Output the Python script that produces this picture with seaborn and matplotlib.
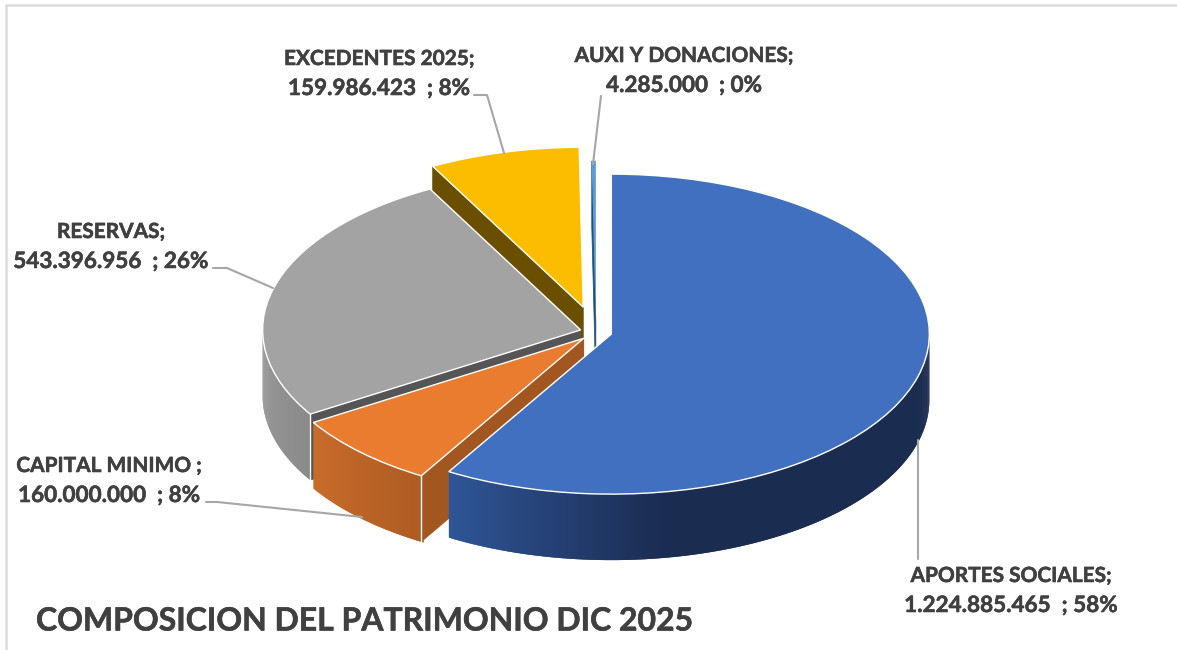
import numpy as np
import seaborn as sns
from matplotlib import pyplot as plt
from matplotlib import patheffects as pe
from matplotlib.lines import Line2D

sns.set_theme(style="white")
plt.rcParams['font.family'] = ['Lato', 'DejaVu Sans']

# values as printed on the chart
categories = ["APORTES SOCIALES", "CAPITAL MINIMO", "RESERVAS", "EXCEDENTES 2025", "AUXI Y DONACIONES"]
values = [1224885465, 160000000, 543396956, 159986423, 4285000]
percent_labels = ["58%", "8%", "26%", "8%", "0%"]
title = "COMPOSICION DEL PATRIMONIO DIC 2025"

top_colors = ["#4270c0", "#ea7c30", "#a3a3a3", "#fcbd00", "#5b9bd5"]
face_colors = ["#1a2c50", "#a35720", "#555555", "#6a4f00", "#1f4e79"]
wall_colors = [["#2f5597", "#1a2c50", "#1a2c50", "#1a2c50"], ["#c86c2b", "#ae5b22"], ["#9a9a9a", "#8a8a8a"],
               ["#6a4f00", "#6a4f00"], ["#1f4e79", "#1f4e79"]]
explode = [0.05, 0.055, 0.05, 0.16, 0.07]
draw_order = [3, 4, 2, 1, 0]

W, H = 1177, 650
CX, CY = 596, 332     # pie centre in pixels
RX, RY = 318, 160     # ellipse half axes in pixels
DEPTH = 66 / RY
TEXT = "#404040"
BOLD = [pe.withStroke(linewidth=0.4, foreground=TEXT)]

fig = plt.figure(figsize=(W / 100, H / 100), dpi=100)
ax = fig.add_axes([0, 0, 1, 1])
wedges, _ = ax.pie(values, explode=explode, colors=top_colors, startangle=90, counterclock=False,
                   wedgeprops=dict(edgecolor="white", linewidth=1))
wedges[4].set_linewidth(0)
ax.set_aspect("auto")
ax.set_xlim(-CX / RX, (W - CX) / RX)
ax.set_ylim((CY - H) / RY, CY / RY)
ax.axis("off")

for layer, i in enumerate(draw_order):
    w = wedges[i]
    z = 10 * (layer + 1)
    w.set_zorder(z + 2)
    cx, cy = w.center
    # outer wall, only the part that faces the viewer
    ang = np.radians(np.arange(w.theta1, w.theta2 + 0.5, 0.5))
    ang = ang[np.sin(ang) < 0]
    if len(ang) > 2:
        # left to right on the screen, each strip runs under the next one so no seams show
        ang = ang[np.argsort(np.cos(ang))]
        pal = sns.blend_palette(wall_colors[i], len(ang))
        for n in range(len(ang) - 1):
            a = ang[[n, min(n + 2, len(ang) - 1)]]
            xs = cx + np.cos(a)
            ys = cy + np.sin(a)
            ax.fill(np.r_[xs, xs[::-1]], np.r_[ys, ys[::-1] - DEPTH], color=pal[n], lw=0, zorder=z)
    # radial cut face on the start side of the slice
    t = np.radians(w.theta2)
    if np.cos(t) < -1e-6:
        rim_x, rim_y = cx + np.cos(t), cy + np.sin(t)
        ax.fill([cx, rim_x, rim_x, cx], [cy, rim_y, rim_y - DEPTH, cy - DEPTH], color=face_colors[i], lw=0.5, zorder=z + 1)
        if i in (1, 2):
            ax.plot([rim_x, rim_x], [rim_y, rim_y - DEPTH], color="white", lw=1, zorder=z + 1)


def fx(x):
    return x / W


def fy(y):
    return 1 - y / H


# data labels, name on one line and value on the next
label_pos = [(1011, 576), (109, 466), (111, 232), (379, 59), (684, 56)]
for name, val, pct, (x, y) in zip(categories, values, percent_labels, label_pos):
    sep = " ;" if name == "CAPITAL MINIMO" else ";"
    amount = f"{val:,}".replace(",", ".") + f"  ; {pct}"
    fig.text(fx(x), fy(y), name + sep, ha="center", va="center", fontsize=15, fontweight="bold", color=TEXT,
             path_effects=BOLD)
    fig.text(fx(x), fy(y + 29.5), amount, ha="center", va="center", fontsize=16.2, fontweight="bold", color=TEXT,
             path_effects=BOLD)

# leader lines
leaders = [[(918, 440), (918, 559)], [(206, 502), (217, 502), (362, 517)], [(213, 268), (227, 268), (273, 288)],
           [(474, 95), (487, 95), (504, 153)], [(601, 96), (593, 164)]]
for path in leaders:
    px = np.array(path)
    fig.add_artist(Line2D(fx(px[:, 0]), fy(px[:, 1]), color="#a6a6a6", lw=1.5, transform=fig.transFigure))

fig.text(fx(36), fy(621), title, ha="left", va="center", fontsize=23, fontweight="bold", color=TEXT,
         path_effects=BOLD)

# frame of the pasted chart
for path in [[(6, 5), (1177, 5)], [(6, 5), (6, 650)]]:
    px = np.array(path)
    fig.add_artist(Line2D(fx(px[:, 0]), fy(px[:, 1]), color="#dcdcdc", lw=1.8, transform=fig.transFigure))

fig.savefig("out.png", dpi=100)
